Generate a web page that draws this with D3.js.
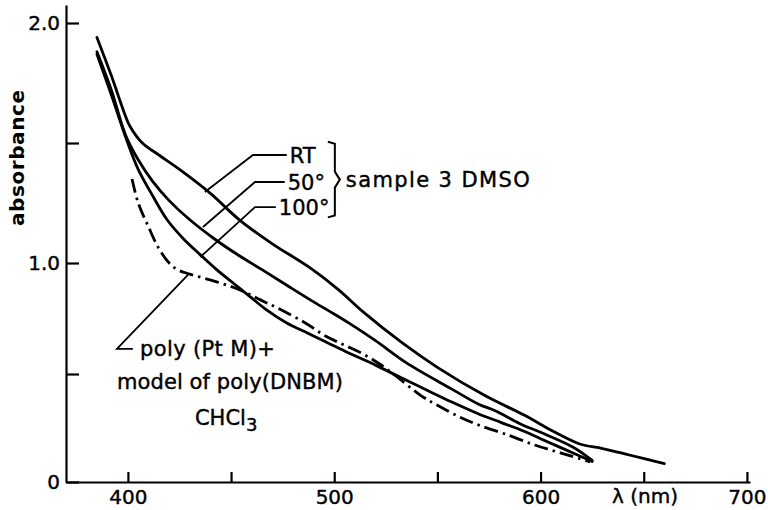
<!DOCTYPE html>
<html>
<head>
<meta charset="utf-8">
<script src="https://cdn.jsdelivr.net/npm/d3@7"></script>
<style>
  body { margin: 0; background: #fff; }
  svg text { font-family: "DejaVu Sans", sans-serif; fill: #000; }
</style>
</head>
<body>
<svg id="chart" width="768" height="510"></svg>
<script>
// spectra: [wavelength nm, absorbance]
var rt = [[385,1.94],[392,1.78],[398.5,1.62],[401,1.57],[407,1.5],[415,1.45],[425,1.39],[440,1.29],
  [454,1.18],[470,1.08],[488,0.98],[502,0.88],[514,0.78],[533,0.64],[550,0.53],[573,0.4],
  [592,0.31],[607,0.23],[619,0.176],[630,0.155],[643,0.125],[660,0.085]];
var deg50 = [[385,1.88],[392,1.72],[399,1.53],[405,1.43],[412,1.34],[420,1.26],[430,1.18],[442,1.1],
  [454,1.03],[465,0.97],[477,0.9],[490,0.825],[500,0.77],[507,0.73],[520,0.65],[535,0.55],
  [557,0.43],[570,0.36],[578,0.33],[590,0.27],[600,0.23],[616,0.16],[625,0.1]];
var deg100 = [[385,1.87],[392,1.7],[399.5,1.51],[405,1.39],[412,1.28],[419,1.18],[427,1.1],[435,1.035],
  [443,0.97],[451,0.91],[459,0.85],[467,0.79],[477,0.73],[487,0.685],[497,0.64],[507,0.595],
  [520,0.54],[533,0.48],[545,0.425],[557,0.37],[570,0.315],[581,0.275],[592,0.235],[600,0.2],
  [612,0.15],[625,0.095]];
var polyMix = [[402,1.35],[405,1.25],[410,1.15],[415,1.06],[420,1.0],[424,0.97],[430,0.95],[443,0.915],
  [454,0.88],[464,0.835],[474,0.79],[486,0.73],[496,0.67],[505,0.63],[514,0.59],[522,0.545],
  [530,0.49],[542,0.4],[550,0.355],[561,0.3],[571,0.26],[585,0.215],[596,0.175],[605,0.148],
  [615,0.12],[624,0.093]];

var xTicks = [400, 450, 500, 550, 600, 650, 700];
var yTicks = [0, 0.5, 1.0, 1.5, 2.0];

// leader lines: [point on curve, knee, end of horizontal] in data units
var leaders = [
  {text: "RT",   pts: [[437.3,1.296],[460.6,1.45],[477,1.45]]},
  {text: "50°",  pts: [[436.4,1.15],[461.6,1.3375],[476,1.3375]]},
  {text: "100°", pts: [[435.1,1.025],[461.6,1.233],[471.7,1.233]]}
];
var polyLeader = [[429.1,0.946],[394.7,0.613],[402.4,0.613]];

var svg = d3.select("#chart");

var x = d3.scaleLinear().domain([370, 701.5]).range([66, 750]);
// the scanned axis is slightly uneven, so the scale follows its ticks
var y = d3.scaleLinear().domain([0, 0.5, 1.0, 1.5, 2.0, 2.08]).range([482, 374, 263, 143, 23, 5]);

var xAxis = d3.axisBottom(x)
  .tickValues(xTicks)
  .tickSizeInner(-10)
  .tickSizeOuter(0)
  .tickPadding(8)
  .tickFormat(function(d) { return d % 100 === 0 ? d : ""; });

var yAxis = d3.axisLeft(y)
  .tickValues(yTicks)
  .tickSizeInner(-13)
  .tickSizeOuter(0)
  .tickPadding(6)
  .tickFormat(function(d) { return d === 0 ? "0" : (d % 1 === 0 ? d.toFixed(1) : ""); });

var gx = svg.append("g").attr("transform", "translate(0," + y(0) + ")").call(xAxis);
var gy = svg.append("g").attr("transform", "translate(" + x(370) + ",0)").call(yAxis);

[gx, gy].forEach(function(g) {
  g.selectAll("path, line").attr("stroke", "#000").attr("stroke-width", 2.2);
  g.selectAll("text").attr("font-size", "20px").attr("font-family", "DejaVu Sans").attr("fill", "#000")
    .attr("stroke", "#000").attr("stroke-width", 0.4);
});

svg.append("text")
  .attr("transform", "translate(24,158) rotate(-90)")
  .attr("text-anchor", "middle")
  .attr("font-size", "20px")
  .attr("font-weight", "bold")
  .attr("textLength", 136)
  .text("absorbance");

svg.append("text")
  .attr("x", 645).attr("y", 503)
  .attr("text-anchor", "middle")
  .attr("font-size", "20px")
  .attr("stroke", "#000").attr("stroke-width", 0.4)
  .text("λ (nm)");

var line = d3.line()
  .x(function(d) { return x(d[0]); })
  .y(function(d) { return y(d[1]); })
  .curve(d3.curveCatmullRom);

[rt, deg50, deg100].forEach(function(s) {
  svg.append("path")
    .datum(s)
    .attr("fill", "none")
    .attr("stroke", "#000")
    .attr("stroke-width", 2.8)
    .attr("stroke-linejoin", "round")
    .attr("stroke-linecap", "round")
    .attr("d", line);
});

svg.append("path")
  .datum(polyMix)
  .attr("fill", "none")
  .attr("stroke", "#000")
  .attr("stroke-width", 2.8)
  .attr("stroke-dasharray", "14,5,2.5,5")
  .attr("d", line);

var straight = d3.line()
  .x(function(d) { return x(d[0]); })
  .y(function(d) { return y(d[1]); });

var notes = svg.append("g").attr("stroke", "#000").attr("stroke-width", 0.4);

leaders.forEach(function(l) {
  svg.append("path")
    .attr("d", straight(l.pts))
    .attr("fill", "none")
    .attr("stroke", "#000")
    .attr("stroke-width", 1.8);
  var end = l.pts[2];
  notes.append("text")
    .attr("x", x(end[0]) + 3)
    .attr("y", y(end[1]))
    .attr("dy", "0.36em")
    .attr("font-size", "21px")
    .text(l.text);
});

// brace grouping the three DMSO curves
var bx = x(500.3), bt = y(1.505), bb = y(1.19), bm = (bt + bb) / 2;
svg.append("path")
  .attr("d", "M" + (bx - 7) + "," + bt + " L" + bx + "," + (bt + 2) + " L" + bx + "," + (bm - 8) +
    " L" + (bx + 5) + "," + bm + " L" + bx + "," + (bm + 8) + " L" + bx + "," + (bb - 2) +
    " L" + (bx - 7) + "," + bb)
  .attr("fill", "none")
  .attr("stroke", "#000")
  .attr("stroke-width", 2);

notes.append("text")
  .attr("x", x(505.6)).attr("y", bm)
  .attr("dy", "0.36em")
  .attr("font-size", "21px")
  .attr("textLength", 184)
  .text("sample 3  DMSO");

svg.append("path")
  .attr("d", straight(polyLeader))
  .attr("fill", "none")
  .attr("stroke", "#000")
  .attr("stroke-width", 1.8);

var px = x(polyLeader[1][0]), py = y(polyLeader[1][1]);
notes.append("text")
  .attr("x", px + 23).attr("y", py).attr("dy", "0.36em")
  .attr("font-size", "21px")
  .attr("textLength", 135)
  .text("poly (Pt M)+");
notes.append("text")
  .attr("x", px).attr("y", py + 33).attr("dy", "0.36em")
  .attr("font-size", "21px")
  .attr("textLength", 226)
  .text("model of poly(DNBM)");
var chcl = notes.append("text")
  .attr("x", px + 78).attr("y", py + 69).attr("dy", "0.36em")
  .attr("font-size", "21px");
chcl.append("tspan").text("CHCl");
chcl.append("tspan").attr("dy", "6").attr("font-size", "18px").text("3");
</script>
</body>
</html>
